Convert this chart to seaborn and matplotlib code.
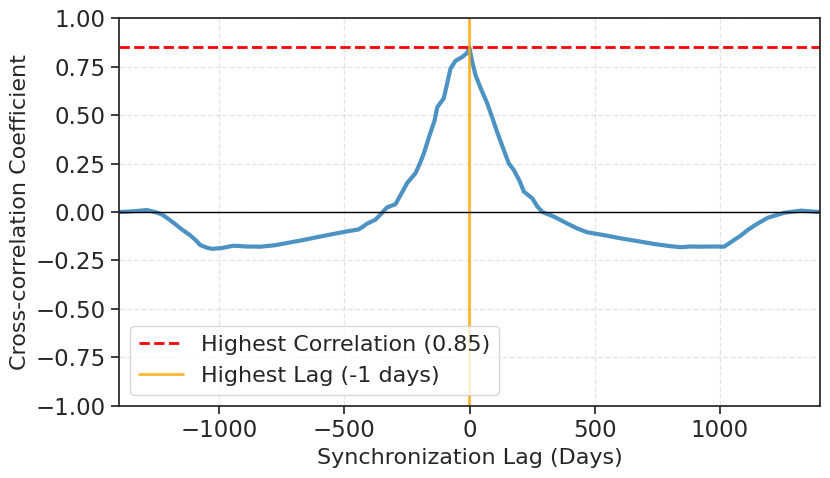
import numpy as np
import pandas as pd
import matplotlib
matplotlib.use("Agg")
import matplotlib.pyplot as plt
import seaborn as sns

# cross-correlation
lags = [-1400, -1396, -1340, -1289, -1256, -1230, -1209, -1180, -1149, -1116,
        -1090, -1076, -1050, -1029, -990, -943, -890, -836, -780, -729, -670,
        -609, -550, -489, -443, -425, -409, -376, -350, -329, -296, -270, -249,
        -216, -200, -183, -156, -140, -129, -103, -90, -76, -56, -29, -10, -1,
        10, 24, 44, 71, 90, 111, 131, 157, 177, 200, 217, 251, 270, 291, 337,
        391, 430, 471, 540, 604, 670, 737, 800, 844, 880, 924, 970, 1017, 1057,
        1080, 1111, 1150, 1191, 1257, 1324, 1396, 1400]
corr = [0.0, 0.0, 0.004, 0.01, 0.0, -0.012, -0.03, -0.058, -0.09, -0.12,
        -0.15, -0.17, -0.184, -0.19, -0.186, -0.174, -0.178, -0.179, -0.172,
        -0.16, -0.146, -0.13, -0.115, -0.10, -0.09, -0.075, -0.06, -0.04,
        -0.005, 0.024, 0.04, 0.10, 0.15, 0.20, 0.245, 0.30, 0.41, 0.47, 0.54,
        0.586, 0.66, 0.74, 0.78, 0.80, 0.82, 0.85, 0.78, 0.706, 0.64, 0.56,
        0.49, 0.41, 0.34, 0.25, 0.216, 0.16, 0.105, 0.07, 0.03, 0.0, -0.024,
        -0.06, -0.085, -0.105, -0.12, -0.136, -0.15, -0.165, -0.176, -0.182,
        -0.178, -0.179, -0.178, -0.179, -0.144, -0.125, -0.093, -0.06, -0.03,
        -0.004, 0.007, 0.0, 0.0]

best_corr = 0.85
best_lag = -1

sns.set_theme(style="ticks", context="notebook", font_scale=1.5)

df = pd.DataFrame({"lag": lags, "corr": corr})

fig, ax = plt.subplots(figsize=(8.3, 4.78), dpi=100)
sns.lineplot(data=df, x="lag", y="corr", ax=ax, color="#1f77b4", alpha=0.8, linewidth=3)
ax.axhline(best_corr, color="red", linestyle="--", linewidth=2,
           label=f"Highest Correlation ({best_corr:.2f})")
ax.axvline(best_lag, color="orange", linestyle="-", linewidth=2, alpha=0.8,
           label=f"Highest Lag ({best_lag} days)")
ax.axhline(0, color="black", linewidth=1)

ax.set_xlim(-1400, 1400)
ax.set_ylim(-1, 1)
ax.set_xlabel("Synchronization Lag (Days)", fontsize=16)
ax.set_ylabel("Cross-correlation Coefficient", fontsize=16)
ax.grid(True, linestyle="--", alpha=0.5)
ax.legend(loc="lower left", fontsize=16)

plt.subplots_adjust(left=0.1434, right=0.988, top=0.962, bottom=0.151)
fig.savefig("out.png", dpi=100)
